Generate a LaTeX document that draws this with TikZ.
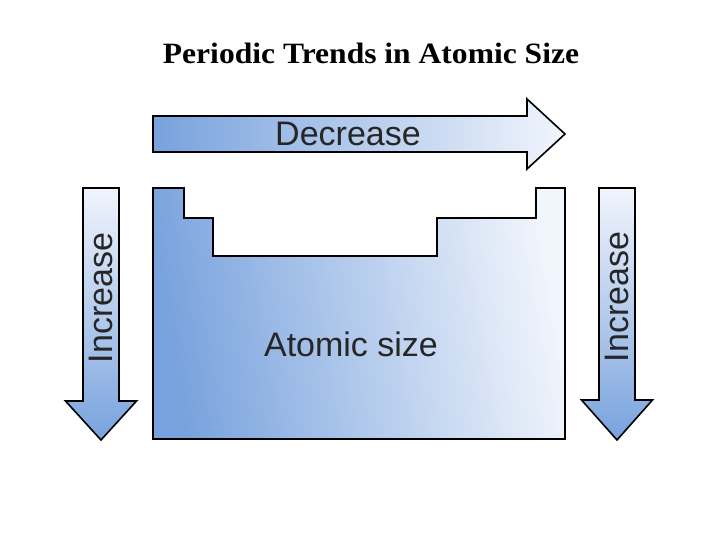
\documentclass[tikz,border=0pt]{standalone}
\usepackage{fontspec}
\setmainfont{Liberation Serif}
\newfontfamily\labelfont{Liberation Sans}

\definecolor{deepblue}{RGB}{120,162,221}
\definecolor{paleblue}{RGB}{241,245,252}

\tikzset{
  outline/.style={draw=black, line width=1.6pt, line join=miter},
  trendtext/.style={font=\labelfont\fontsize{34}{34}\selectfont, text=black!85},
}

\begin{document}
\begin{tikzpicture}[x=1pt,y=-1pt]
    \useasboundingbox (0,0) rectangle (720,540);

    % Title
    \node[font=\bfseries\fontsize{29.5}{29.5}\selectfont, xscale=1.07, anchor=base] (title) at (371,64) {Periodic Trends in Atomic Size};

    % Define points of the arrows
    \coordinate (topstart) at (153,134);
    \coordinate (toptip) at (565,134);
    \coordinate (leftstart) at (101,188);
    \coordinate (lefttip) at (101,440);
    \coordinate (rightstart) at (617,188);
    \coordinate (righttip) at (617,440);

    % Draw the arrow across the top
    \draw[outline, left color=deepblue, right color=paleblue]
        ([yshift=18pt]topstart) -- ([xshift=-38pt,yshift=18pt]toptip) -- ([xshift=-38pt,yshift=35pt]toptip)
        -- (toptip) -- ([xshift=-38pt,yshift=-35pt]toptip) -- ([xshift=-38pt,yshift=-18pt]toptip)
        -- ([yshift=-18pt]topstart) -- cycle;
    \node[trendtext] (decrease) at (348,134) {Decrease};

    % Draw the arrows down the sides
    \draw[outline, top color=paleblue, bottom color=deepblue]
        ([xshift=-18pt]leftstart) -- ([xshift=18pt]leftstart) -- ([xshift=18pt,yshift=39pt]lefttip)
        -- ([xshift=35.5pt,yshift=39pt]lefttip) -- (lefttip) -- ([xshift=-35.5pt,yshift=39pt]lefttip)
        -- ([xshift=-18pt,yshift=39pt]lefttip) -- cycle;
    \node[trendtext, rotate=90] (increaseleft) at (101,298) {Increase};

    \draw[outline, top color=paleblue, bottom color=deepblue]
        ([xshift=-18pt]rightstart) -- ([xshift=18pt]rightstart) -- ([xshift=18pt,yshift=40pt]righttip)
        -- ([xshift=35.5pt,yshift=40pt]righttip) -- (righttip) -- ([xshift=-35.5pt,yshift=40pt]righttip)
        -- ([xshift=-18pt,yshift=40pt]righttip) -- cycle;
    \node[trendtext, rotate=90] (increaseright) at (617,297) {Increase};

    % Draw the outline of the table
    \draw[outline, line width=2pt, left color=deepblue, right color=paleblue, shading angle=100]
        (153,188) -- (184,188) -- (184,218) -- (213,218) -- (213,256) -- (437,256)
        -- (437,218) -- (536,218) -- (536,188) -- (565,188) -- (565,439) -- (153,439) -- cycle;
    \node[trendtext] (atomicsize) at (351,344) {Atomic size};
\end{tikzpicture}
\end{document}
